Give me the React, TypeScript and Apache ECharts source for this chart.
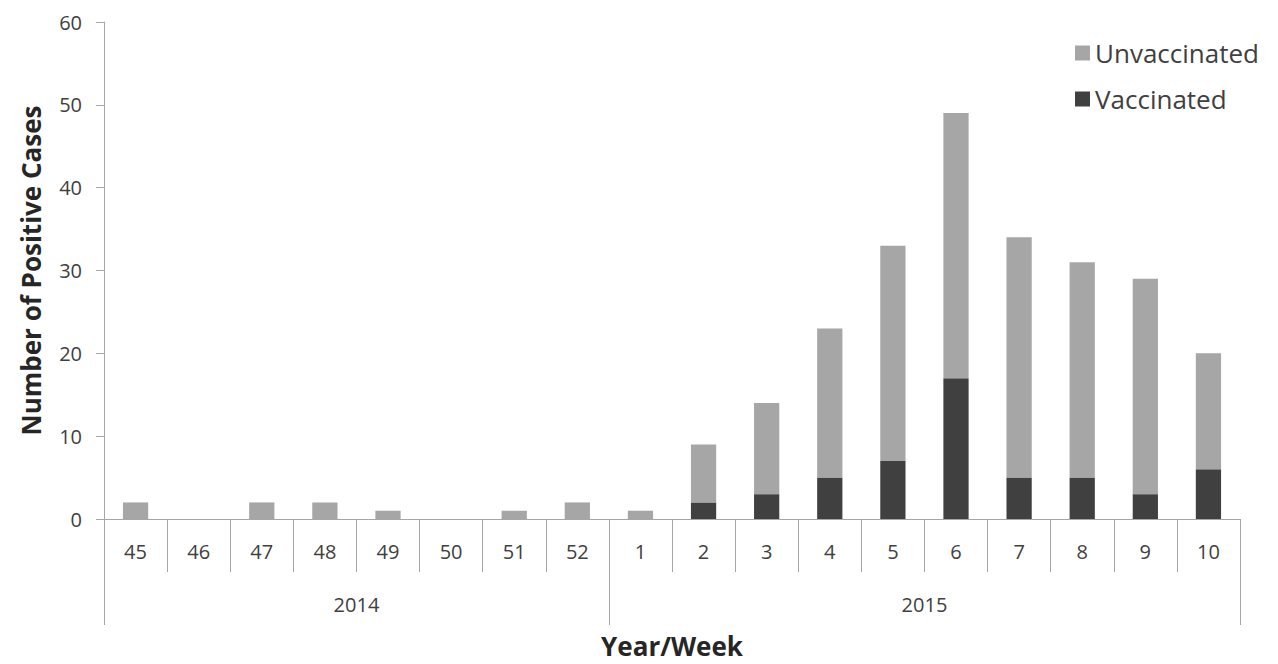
import React, { useEffect, useRef } from "react";
import * as echarts from "echarts";

const weeks = ["45", "46", "47", "48", "49", "50", "51", "52", "1", "2", "3", "4", "5", "6", "7", "8", "9", "10"];
const years = ["2014", "2015"];
const weeksPerYear = [8, 10];
const vaccinated = [0, 0, 0, 0, 0, 0, 0, 0, 0, 2, 3, 5, 7, 17, 5, 5, 3, 6];
const unvaccinated = [2, 0, 2, 2, 1, 0, 1, 2, 1, 7, 11, 18, 26, 32, 29, 26, 26, 14];
const yTicks = { min: 0, max: 60, interval: 10 };

const FONT = "'Open Sans', 'Noto Sans', sans-serif";
const AXIS_COLOR = "#a6a6a6";
const TEXT_COLOR = "#404040";

export default function App() {
  const ref = useRef<HTMLDivElement>(null);
  useEffect(() => {
    if (!ref.current) return;
    const chart = echarts.init(ref.current, undefined, { renderer: "svg" });

    // year boundaries and centres along the week axis
    const bounds: number[] = [0];
    const centers: number[] = [];
    weeksPerYear.forEach((n) => {
      const start = bounds[bounds.length - 1];
      centers.push(start + n / 2);
      bounds.push(start + n);
    });
    const total = bounds[bounds.length - 1];

    chart.setOption({
      animation: false,
      textStyle: { fontFamily: FONT },
      grid: { left: 104, right: 38, top: 22, bottom: 144, containLabel: false },
      legend: {
        data: ["Unvaccinated", "Vaccinated"],
        orient: "vertical",
        right: 14,
        top: 35,
        itemGap: 20,
        itemWidth: 15,
        itemHeight: 15,
        icon: "rect",
        textStyle: { fontSize: 26, color: TEXT_COLOR, fontFamily: FONT },
      },
      xAxis: [
        {
          type: "category",
          data: weeks,
          position: "bottom",
          axisLine: { show: true, lineStyle: { color: AXIS_COLOR, width: 1 } },
          axisTick: { show: true, interval: 0, length: 53, lineStyle: { color: AXIS_COLOR } },
          axisLabel: { interval: 0, fontSize: 20, color: TEXT_COLOR, margin: 22, fontFamily: FONT },
          splitLine: { show: false },
        },
        {
          type: "value",
          position: "bottom",
          min: 0,
          max: total,
          axisLine: { show: false },
          axisTick: { show: true, customValues: bounds, length: 106, lineStyle: { color: AXIS_COLOR } },
          axisLabel: {
            customValues: centers,
            fontSize: 20,
            color: TEXT_COLOR,
            margin: 75,
            fontFamily: FONT,
            formatter: (v: number) => {
              const i = centers.indexOf(v);
              return i >= 0 ? years[i] : "";
            },
          },
          splitLine: { show: false },
          name: "Year/Week",
          nameLocation: "middle",
          nameGap: 114,
          nameTextStyle: { fontSize: 26, fontWeight: "bold", color: "#262626", fontFamily: FONT },
        },
      ],
      yAxis: {
        type: "value",
        min: yTicks.min,
        max: yTicks.max,
        interval: yTicks.interval,
        axisLine: { show: true, lineStyle: { color: AXIS_COLOR, width: 1 } },
        axisTick: { show: true, length: 8, lineStyle: { color: AXIS_COLOR } },
        axisLabel: { fontSize: 20, color: TEXT_COLOR, margin: 22, fontFamily: FONT },
        splitLine: { show: false },
        name: "Number of Positive Cases",
        nameLocation: "middle",
        nameGap: 60,
        nameTextStyle: { fontSize: 26, fontWeight: "bold", color: "#262626", fontFamily: FONT },
      },
      series: [
        {
          name: "Vaccinated",
          type: "bar",
          stack: "cases",
          xAxisIndex: 0,
          data: vaccinated,
          barWidth: "40%",
          itemStyle: { color: "#404040" },
        },
        {
          name: "Unvaccinated",
          type: "bar",
          stack: "cases",
          xAxisIndex: 0,
          data: unvaccinated,
          barWidth: "40%",
          itemStyle: { color: "#a6a6a6" },
        },
      ],
    });
    return () => chart.dispose();
  }, []);
  return (
    <div
      ref={ref}
      style={{ position: "absolute", left: 0, top: 0, width: 1278, height: 664, background: "#fff" }}
    />
  );
}
